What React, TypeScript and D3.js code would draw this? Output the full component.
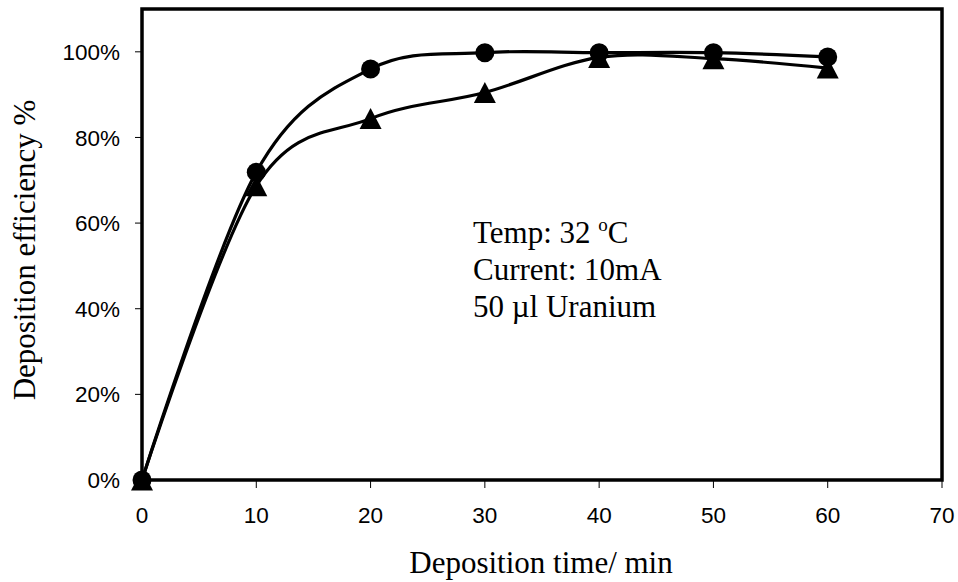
import React from "react";
import * as d3 from "d3";

const times = [0, 10, 20, 30, 40, 50, 60];
const circleSeries = [0, 0.719, 0.96, 0.998, 0.998, 0.998, 0.988];
const triangleSeries = [0, 0.687, 0.844, 0.905, 0.987, 0.984, 0.962];
const xTicks = [0, 10, 20, 30, 40, 50, 60, 70];
const yTicks = [0, 0.2, 0.4, 0.6, 0.8, 1.0];
const noteLines = ["Current: 10mA", "50 µl Uranium"];

const W = 958;
const H = 582;
const plot = { left: 142, right: 942, top: 9, bottom: 480 };
const serif = "'Liberation Serif', 'Times New Roman', serif";
const sans = "'Liberation Sans', Arial, sans-serif";

export default function App() {
  const x = d3.scaleLinear().domain([0, 70]).range([plot.left, plot.right]);
  const y = d3.scaleLinear().domain([0, 1.1]).range([plot.bottom, plot.top]);
  const line = d3
    .line<[number, number]>()
    .x((d) => x(d[0]))
    .y((d) => y(d[1]))
    .curve(d3.curveCardinal.tension(0));
  const circPts = times.map((t, i) => [t, circleSeries[i]] as [number, number]);
  const triPts = times.map((t, i) => [t, triangleSeries[i]] as [number, number]);
  const triPath = (cx: number, cy: number) => {
    const w = 22, h = 21;
    return `M${cx},${cy - h / 2}L${cx + w / 2},${cy + h / 2}L${cx - w / 2},${cy + h / 2}Z`;
  };

  return (
    <svg width={W} height={H} style={{ position: "absolute", left: 0, top: 0, background: "#fff" }}>
      <rect x={0} y={0} width={W} height={H} fill="#fff" />
      {/* y ticks */}
      {yTicks.map((v) => (
        <g key={"y" + v}>
          <line x1={plot.left - 7} x2={plot.left} y1={y(v)} y2={y(v)} stroke="#000" strokeWidth={1} />
          <text
            x={120}
            y={y(v)}
            dy="0.36em"
            textAnchor="end"
            fontFamily={sans}
            fontSize={22.5}
          >
            {d3.format(".0%")(v)}
          </text>
        </g>
      ))}
      {/* x ticks */}
      {xTicks.map((v) => (
        <g key={"x" + v}>
          <line x1={x(v)} x2={x(v)} y1={plot.bottom} y2={plot.bottom + 8} stroke="#000" strokeWidth={1} />
          <text x={x(v)} y={523} textAnchor="middle" fontFamily={sans} fontSize={22.5}>
            {v}
          </text>
        </g>
      ))}
      {/* plot frame */}
      <rect
        x={plot.left}
        y={plot.top}
        width={plot.right - plot.left}
        height={plot.bottom - plot.top}
        fill="none"
        stroke="#000"
        strokeWidth={3.5}
      />
      {/* series lines */}
      <path d={line(circPts) || ""} fill="none" stroke="#000" strokeWidth={3.2} />
      <path d={line(triPts) || ""} fill="none" stroke="#000" strokeWidth={3.2} />
      {/* markers */}
      {circPts.map((d, i) => (
        <circle key={"c" + i} cx={x(d[0])} cy={y(d[1])} r={9.5} fill="#000" />
      ))}
      {triPts.map((d, i) => (
        <path key={"t" + i} d={triPath(x(d[0]), y(d[1]))} fill="#000" />
      ))}
      {/* annotation */}
      <text x={473} y={243} fontFamily={serif} fontSize={31}>
        Temp: 32{" "}
        <tspan fontSize={19} dy={-12}>o</tspan>
        <tspan dy={12}>C</tspan>
      </text>
      {noteLines.map((t, i) => (
        <text key={t} x={473} y={280 + i * 37} fontFamily={serif} fontSize={31}>
          {t}
        </text>
      ))}
      {/* axis titles */}
      <text x={541} y={573} textAnchor="middle" fontFamily={serif} fontSize={31}>
        Deposition time/ min
      </text>
      <text
        transform={`translate(35, 250) rotate(-90)`}
        textAnchor="middle"
        fontFamily={serif}
        fontSize={31}
      >
        Deposition efficiency %
      </text>
    </svg>
  );
}
